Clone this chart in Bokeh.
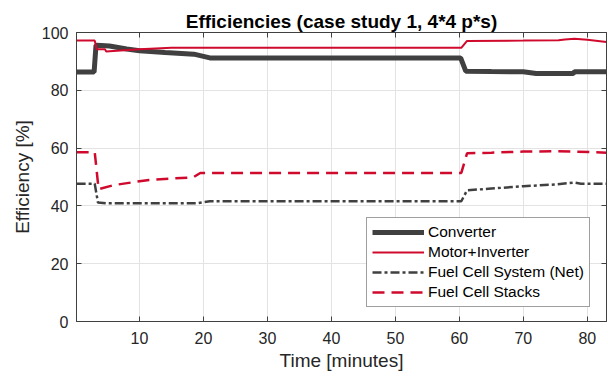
from bokeh.plotting import figure
from bokeh.models import Range1d, LinearAxis, FixedTicker, Legend, LegendItem
from bokeh.embed import file_html
from bokeh.resources import INLINE

# Converter efficiency
conv_t = [0.17, 2.9, 3.2, 4.0, 5.3, 8.0, 10.0, 14.0, 18.5, 21.0, 60.2, 61.0, 65.0, 70.0, 72.0, 77.8, 78.0, 83.0]
conv_v = [86.3, 86.3, 95.6, 95.5, 95.3, 94.3, 93.7, 93.1, 92.5, 91.2, 91.2, 86.6, 86.5, 86.4, 85.8, 85.8, 86.4, 86.4]

# Motor+Inverter efficiency
mot_t = [0.17, 3.0, 3.3, 4.6, 4.8, 5.3, 10.0, 15.0, 60.3, 61.2, 70.0, 75.5, 76.5, 78.0, 80.0, 83.0]
mot_v = [97.2, 97.2, 94.2, 94.2, 93.4, 93.5, 94.2, 94.7, 94.7, 97.1, 97.2, 97.3, 97.6, 97.8, 97.5, 96.7]

# Fuel Cell System (Net)
fcs_t = [0.17, 3.0, 3.5, 5.0, 18.9, 21.0, 60.3, 61.2, 65.0, 70.0, 75.0, 78.0, 79.0, 83.0]
fcs_v = [47.7, 47.7, 41.2, 40.9, 40.9, 41.6, 41.6, 45.4, 46.0, 46.8, 47.4, 48.1, 47.7, 47.7]

# Fuel Cell Stacks
stk_t = [0.17, 3.0, 3.6, 6.0, 11.5, 18.4, 19.5, 60.3, 61.2, 65.0, 70.0, 75.0, 78.0, 83.0]
stk_v = [58.6, 58.6, 45.8, 47.2, 49.0, 49.9, 51.4, 51.4, 58.2, 58.4, 58.8, 58.9, 58.8, 58.4]

x_ticks = [10, 20, 30, 40, 50, 60, 70, 80]
y_ticks = [0, 20, 40, 60, 80, 100]

GRAY = "#404040"
RED = "#D00A2C"
FONT = "Liberation Sans"

p = figure(width=608, height=379, output_backend="svg", toolbar_location=None,
           x_range=Range1d(0.15, 83.0), y_range=Range1d(0, 100),
           min_border_left=76, min_border_right=2, min_border_top=32, min_border_bottom=58)

p.title.text = "Efficiencies (case study 1, 4*4 p*s)"
p.title.text_font = FONT
p.title.text_font_size = "19px"
p.title.text_font_style = "bold"
p.title.align = "center"
p.title.standoff = 2
p.title.text_color = "#000000"

p.outline_line_color = GRAY
p.outline_line_width = 1
p.background_fill_color = "white"
p.border_fill_color = "white"

for ax in p.xaxis:
    ax.ticker = FixedTicker(ticks=x_ticks)
    ax.axis_label = "Time [minutes]"
for ax in p.yaxis:
    ax.ticker = FixedTicker(ticks=y_ticks)
    ax.axis_label = "Efficiency [%]"

for ax in list(p.xaxis) + list(p.yaxis):
    ax.major_tick_in = 5
    ax.major_tick_out = 0
    ax.minor_tick_in = 0
    ax.minor_tick_out = 0
    ax.axis_line_color = GRAY
    ax.major_tick_line_color = GRAY
    ax.major_label_text_font = FONT
    ax.major_label_text_font_size = "16px"
    ax.major_label_text_color = "#262626"
    ax.axis_label_text_font = FONT
    ax.axis_label_text_font_size = "19px"
    ax.axis_label_text_font_style = "normal"
    ax.axis_label_text_color = "#262626"

p.xaxis.major_label_standoff = 10
p.yaxis.major_label_standoff = 8
p.xaxis.axis_label_standoff = 3
p.yaxis.axis_label_standoff = 6

# mirrored tick marks (top / right), without labels
top = LinearAxis(ticker=FixedTicker(ticks=x_ticks), major_tick_in=5, major_tick_out=0,
                 minor_tick_in=0, minor_tick_out=0, major_label_text_font_size="1px",
                 major_label_text_color=None, major_label_standoff=0,
                 axis_line_color=GRAY, major_tick_line_color=GRAY)
right = LinearAxis(ticker=FixedTicker(ticks=y_ticks), major_tick_in=5, major_tick_out=0,
                   minor_tick_in=0, minor_tick_out=0, major_label_text_font_size="1px",
                   major_label_text_color=None, major_label_standoff=0,
                   axis_line_color=GRAY, major_tick_line_color=GRAY)
p.add_layout(top, "above")
p.add_layout(right, "right")

p.xgrid.ticker = FixedTicker(ticks=x_ticks)
p.ygrid.ticker = FixedTicker(ticks=y_ticks)
p.grid.grid_line_color = "#E3E3E3"
p.grid.grid_line_width = 1

r1 = p.line(conv_t, conv_v, line_color=GRAY, line_width=5)
r2 = p.line(mot_t, mot_v, line_color=RED, line_width=2)
r3 = p.line(fcs_t, fcs_v, line_color=GRAY, line_width=2.5, line_dash="9 3 3 3")
r4 = p.line(stk_t, stk_v, line_color=RED, line_width=2.5, line_dash="12 7")

legend = Legend(items=[
    LegendItem(label="Converter", renderers=[r1]),
    LegendItem(label="Motor+Inverter", renderers=[r2]),
    LegendItem(label="Fuel Cell System (Net)", renderers=[r3]),
    LegendItem(label="Fuel Cell Stacks", renderers=[r4]),
], location=(290, 14))
legend.label_text_font = FONT
legend.label_text_font_size = "15.5px"
legend.label_text_color = "#000000"
legend.glyph_width = 52
legend.glyph_height = 18
legend.label_height = 18
legend.spacing = 2
legend.padding = 5
legend.margin = 0
legend.label_standoff = 4
legend.border_line_color = GRAY
legend.border_line_width = 1
legend.background_fill_alpha = 1.0
p.add_layout(legend, "center")

open("out.html", "w").write(file_html(p, INLINE))
